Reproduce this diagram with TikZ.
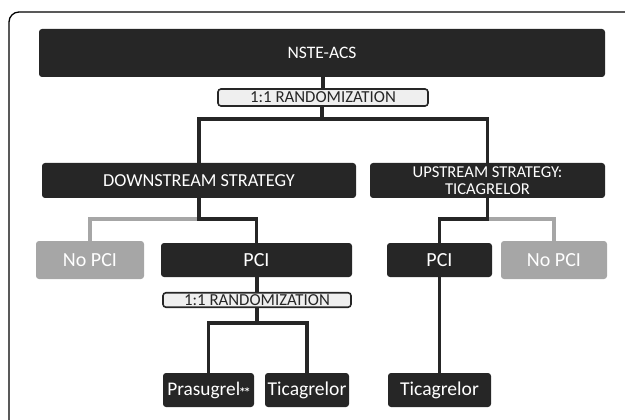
\documentclass[tikz,border=0pt]{standalone}
\usepackage{fontspec}
\setmainfont{Carlito}
\newfontfamily\astfont{DejaVu Sans}
\definecolor{dk}{HTML}{262626}
\definecolor{gy}{HTML}{A6A6A6}
\definecolor{lt}{HTML}{EFEFEF}
\tikzset{
  dbox/.style={fill=dk, rounded corners=3pt, text=white, inner sep=0pt, align=center},
  gbox/.style={fill=gy, rounded corners=3pt, text=white, inner sep=0pt},
  rbox/.style={fill=lt, draw=dk, line width=1.6pt, rounded corners=3pt, text=dk, inner sep=0pt,
    font=\fontsize{16.8}{16.8}\selectfont},
  dline/.style={draw=dk, line width=3.8pt},
  gline/.style={draw=gy, line width=3.8pt},
  frame/.style={draw=black, line width=1.3pt, rounded corners=10pt},
}
\begin{document}
\begin{tikzpicture}[x=1pt,y=-1pt]
\useasboundingbox (0,0) rectangle (625,420);
\clip (0,0) rectangle (625,420);
\draw[frame] (9,440) |- (660,12);

% nodes
\node[dbox, minimum width=566pt, minimum height=48pt, font=\fontsize{17.5}{17.5}\selectfont] (nste) at (322,53) {NSTE-ACS};
\node[rbox, minimum width=210pt, minimum height=17pt] (rand1) at (323,97.5) {1:1 RANDOMIZATION};
\node[dbox, minimum width=314pt, minimum height=35pt, font=\fontsize{18.3}{18.3}\selectfont] (down) at (199,180.5) {DOWNSTREAM STRATEGY};
\node[dbox, minimum width=235pt, minimum height=35pt, font=\fontsize{16.6}{16.6}\selectfont] (up) at (487.5,180.5) {UPSTREAM STRATEGY:\\TICAGRELOR};
\node[gbox, minimum width=108pt, minimum height=38pt, font=\fontsize{20}{20}\selectfont] (nopciL) at (90,260) {No PCI};
\node[dbox, minimum width=191pt, minimum height=34pt, font=\fontsize{20}{20}\selectfont] (pciL) at (256.5,260) {PCI};
\node[dbox, minimum width=105pt, minimum height=34pt, font=\fontsize{20}{20}\selectfont] (pciR) at (439.5,260) {PCI};
\node[gbox, minimum width=106pt, minimum height=38pt, font=\fontsize{20}{20}\selectfont] (nopciR) at (554,260) {No PCI};
\node[rbox, minimum width=188pt, minimum height=14.5pt] (rand2) at (257,300) {1:1 RANDOMIZATION};
\node[dbox, minimum width=91pt, minimum height=34pt, font=\fontsize{19.3}{19.3}\selectfont] (pras) at (208.5,390) {Prasugrel\raisebox{1pt}{\astfont\bfseries\fontsize{9}{9}\selectfont **}};
\node[dbox, minimum width=84pt, minimum height=34pt, font=\fontsize{19.6}{19.6}\selectfont] (ticL) at (307,390) {Ticagrelor};
\node[dbox, minimum width=103pt, minimum height=34pt, font=\fontsize{19.6}{19.6}\selectfont] (ticR) at (439.5,390) {Ticagrelor};

% junctions
\coordinate (j1) at (322,119);
\coordinate (j2) at (199,219);
\coordinate (j3) at (487.5,219);
\coordinate (j4) at (257,323);

% connectors
\draw[dline] (nste.south -| rand1.north) -- (rand1.north);
\draw[dline] (rand1.south -| j1) -- (j1);
\draw[dline] (down.north) |- (j1) -| (up.north);
\draw[gline] (nopciL.north) |- (j2);
\draw[dline] (down.south) -- (j2) -| (pciL.north);
\draw[gline] (j3) -| (nopciR.north);
\draw[dline] (up.south) -- (j3) -| (pciR.north);
\draw[dline] (pciL.south -| rand2.north) -- (rand2.north);
\draw[dline] (rand2.south) -- (j4);
\draw[dline] (pras.north) |- (j4) -| (ticL.north);
\draw[dline] (pciR.south) -- (ticR.north);
\end{tikzpicture}
\end{document}
